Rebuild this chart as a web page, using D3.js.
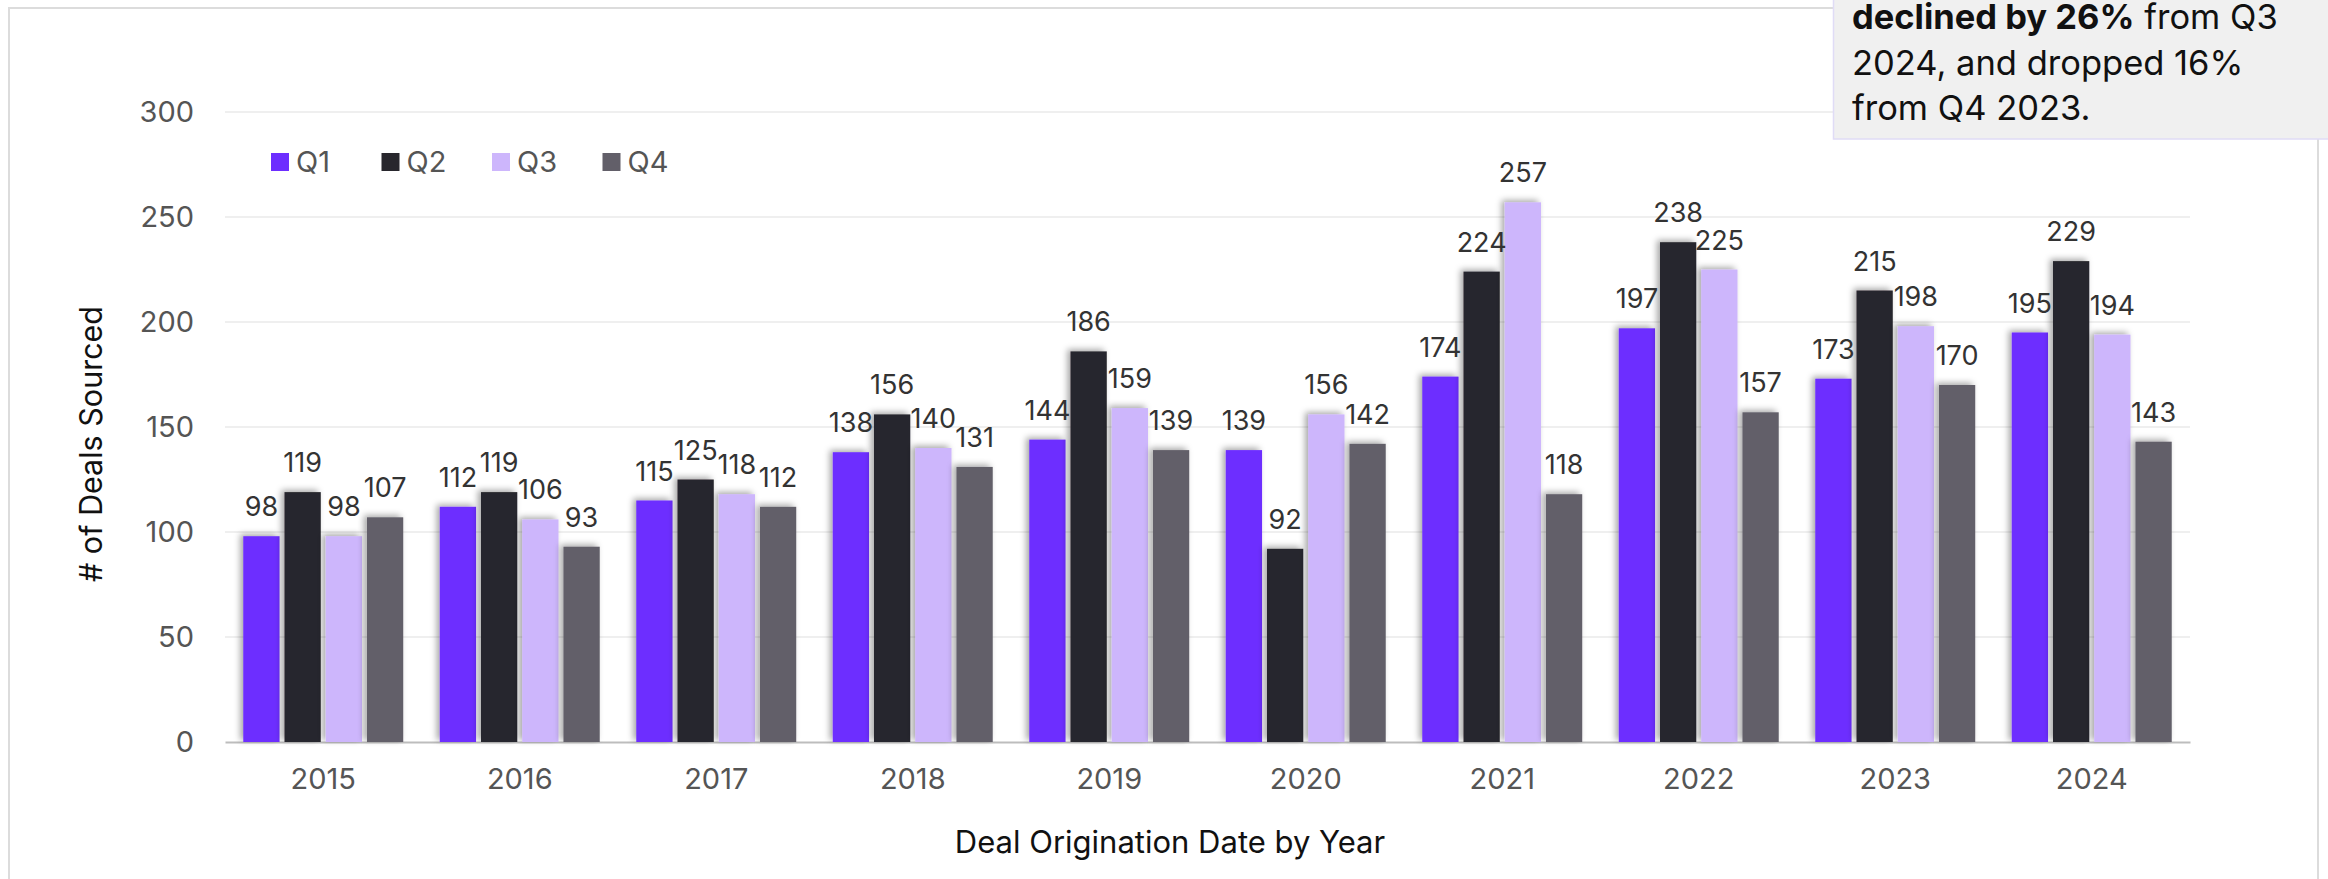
<!DOCTYPE html>
<html><head><meta charset="utf-8">
<script src="https://cdn.jsdelivr.net/npm/d3@7"></script>
<style>
html,body{margin:0;padding:0;background:#fff;}
svg{display:block;font-family:Inter,"Noto Sans",sans-serif;}
</style></head>
<body>
<svg id="c" width="2328" height="879"></svg>
<script>
const years = ["2015","2016","2017","2018","2019","2020","2021","2022","2023","2024"];
const quarters = ["Q1","Q2","Q3","Q4"];
const q1 = [98,112,115,138,144,139,174,197,173,195];
const q2 = [119,119,125,156,186,92,224,238,215,229];
const q3 = [98,106,118,140,159,156,257,225,198,194];
const q4 = [107,93,112,131,139,142,118,157,170,143];
const yTicks = [0,50,100,150,200,250,300];
const colors = ["#6D2EFF","#28272D","#CDB6FC","#625F69"];
const yTitle = "# of Deals Sourced";
const xTitle = "Deal Origination Date by Year";
const noteLines = [
  [{t:"declined by 26%",b:true},{t:" from Q3",b:false}],
  [{t:"2024, and dropped 16%",b:false}],
  [{t:"from Q4 2023.",b:false}]
];

const series = [q1,q2,q3,q4];
const svg = d3.select("#c");

// container border
svg.append("rect").attr("x",9).attr("y",8).attr("width",2309).attr("height",900)
  .attr("fill","none").attr("stroke","#dcdcdc").attr("stroke-width",2);

const defs = svg.append("defs");
const f = defs.append("filter").attr("id","sh").attr("x","-30%").attr("y","-10%").attr("width","160%").attr("height","120%");
f.append("feDropShadow").attr("dx",-3).attr("dy",-2).attr("stdDeviation",3)
  .attr("flood-color","#000").attr("flood-opacity",0.35);

const L = 225, R = 2190;
const x0 = d3.scaleBand().domain(years).range([L,R]).paddingInner(0.186).paddingOuter(0.093);
const x1 = d3.scaleBand().domain(quarters).range([0,x0.bandwidth()]).paddingInner(0.12).paddingOuter(0);
const y = d3.scaleLinear().domain([0,300]).range([742,112]);

// gridlines
svg.append("g").selectAll("line").data(yTicks.filter(d=>d>0)).join("line")
  .attr("x1",L).attr("x2",R).attr("y1",d=>y(d)).attr("y2",d=>y(d))
  .attr("stroke","#efefef").attr("stroke-width",2);

// y axis labels
const ya = svg.append("g").attr("transform",`translate(${L},0)`)
  .call(d3.axisLeft(y).tickValues(yTicks).tickSize(0).tickPadding(31));
ya.select(".domain").remove();
ya.selectAll("text").attr("font-size",29).attr("fill","#555").attr("font-family","Inter,sans-serif");

// x axis
const xa = svg.append("g").attr("transform",`translate(0,${y(0)})`)
  .call(d3.axisBottom(x0).tickSize(0).tickPadding(26));
xa.select(".domain").attr("stroke","#bdbdbd").attr("stroke-width",2);
xa.selectAll("text").attr("font-size",29).attr("fill","#555").attr("font-family","Inter,sans-serif");

// bars
const groups = svg.append("g").selectAll("g").data(years).join("g")
  .attr("transform",d=>`translate(${x0(d)},0)`);
groups.selectAll("rect").data((d,i)=>quarters.map((q,j)=>({q,v:series[j][i],j}))).join("rect")
  .attr("x",d=>x1(d.q)).attr("width",x1.bandwidth())
  .attr("y",d=>y(d.v)).attr("height",d=>y(0)-y(d.v))
  .attr("fill",d=>colors[d.j]).attr("filter","url(#sh)");
groups.selectAll("text").data((d,i)=>quarters.map((q,j)=>({q,v:series[j][i],j}))).join("text")
  .attr("x",d=>x1(d.q)+x1.bandwidth()/2).attr("y",d=>y(d.v)-20)
  .attr("text-anchor","middle").attr("font-size",27).attr("fill","#333")
  .text(d=>d.v);

// legend
const lg = svg.append("g").attr("transform","translate(271,153)");
const li = lg.selectAll("g").data(quarters).join("g").attr("transform",(d,i)=>`translate(${i*110.5},0)`);
li.append("rect").attr("width",18).attr("height",18).attr("fill",(d,i)=>colors[i]);
li.append("text").attr("x",25).attr("y",19).attr("font-size",29).attr("fill","#555").text(d=>d);

// axis titles
svg.append("text").attr("transform","translate(102,444) rotate(-90)")
  .attr("text-anchor","middle").attr("font-size",30.5).attr("fill","#111").text(yTitle);
svg.append("text").attr("x",1170).attr("y",853).attr("text-anchor","middle")
  .attr("font-size",31).attr("fill","#111").text(xTitle);

// annotation box
svg.append("rect").attr("x",1833.5).attr("y",-20).attr("width",520).attr("height",159)
  .attr("fill","#f0f0f0").attr("stroke","#e0dcf6").attr("stroke-width",1.5);
const nt = svg.append("g");
noteLines.forEach((ln,i)=>{
  const t = nt.append("text").attr("x",1852).attr("y",29+i*45.5).attr("font-size",34.5).attr("fill","#111");
  ln.forEach(s=>t.append("tspan").attr("font-weight",s.b?700:400).text(s.t));
});
</script>
</body></html>
